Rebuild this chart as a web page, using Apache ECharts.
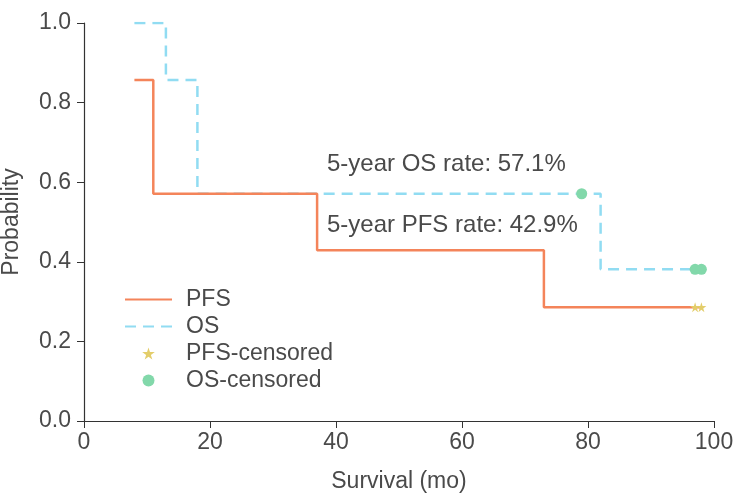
<!DOCTYPE html>
<html>
<head>
<meta charset="utf-8">
<script src="https://cdn.jsdelivr.net/npm/echarts@6/dist/echarts.min.js"></script>
<style>
  html, body { margin: 0; padding: 0; background: #fff; }
  #chart { width: 736px; height: 498px; }
</style>
</head>
<body>
<div id="chart"></div>
<script>
// Kaplan-Meier steps: [month, probability]
const pfsSteps = [[8, 0.857], [11, 0.571], [37, 0.429], [73, 0.286], [98, 0.286]];
const osSteps = [[8, 1.0], [13, 0.857], [18, 0.571], [82, 0.381], [98, 0.381]];
const pfsCensored = [[97, 0.286], [98, 0.286]];
const osCensored = [[79, 0.571], [97, 0.381], [98, 0.381]];
const notes = ['5-year OS rate: 57.1%', '5-year PFS rate: 42.9%'];

const font = 'Liberation Sans, Arial, sans-serif';
const textColor = '#4a4a4a';
const star = 'path://M50,0 L61,35 L98,35 L68,57 L79,91 L50,70 L21,91 L32,57 L2,35 L39,35 Z';

let chart = echarts.init(document.getElementById('chart'));
let option = {
  backgroundColor: '#fff',
  animation: false,
  textStyle: { fontFamily: font },
  grid: { left: 84, right: 22, top: 23, bottom: 77, containLabel: false, outerBoundsMode: 'none' },
  legend: {
    orient: 'vertical',
    left: 124,
    top: 288,
    padding: 0,
    itemWidth: 47,
    itemHeight: 12,
    itemGap: 4,
    textStyle: { fontSize: 23, color: textColor, fontFamily: font, lineHeight: 23, padding: [0, 0, 0, 9] },
    data: [
      { name: 'PFS', itemStyle: { opacity: 0 } },
      { name: 'OS', itemStyle: { opacity: 0 } },
      'PFS-censored',
      'OS-censored'
    ]
  },
  xAxis: {
    type: 'value',
    min: 0, max: 100, interval: 20,
    name: 'Survival (mo)',
    nameLocation: 'middle',
    nameGap: 49,
    nameTextStyle: { fontSize: 23, color: textColor, fontFamily: font },
    axisLine: { lineStyle: { color: '#333', width: 1.2 } },
    axisTick: { length: 7, lineStyle: { color: '#333' } },
    axisLabel: { fontSize: 23, color: textColor, margin: 10 },
    splitLine: { show: false }
  },
  yAxis: {
    type: 'value',
    min: 0, max: 1, interval: 0.2,
    name: 'Probability',
    nameLocation: 'middle',
    nameGap: 61,
    nameTextStyle: { fontSize: 23, color: textColor, fontFamily: font },
    axisLine: { show: true, lineStyle: { color: '#333', width: 1.2 } },
    axisTick: { show: true, length: 7, lineStyle: { color: '#333' } },
    axisLabel: { fontSize: 23, color: textColor, margin: 13, formatter: v => v.toFixed(1) },
    splitLine: { show: false }
  },
  graphic: [
    { type: 'text', x: 327, y: 164, style: { text: notes[0], fontSize: 24, fill: textColor, fontFamily: font, verticalAlign: 'middle' } },
    { type: 'text', x: 327, y: 225, style: { text: notes[1], fontSize: 24, fill: textColor, fontFamily: font, verticalAlign: 'middle' } }
  ],
  series: [
    {
      name: 'PFS', type: 'line', step: 'end', symbol: 'none', z: 3,
      lineStyle: { color: '#f4845a', width: 2.5 },
      itemStyle: { color: '#f4845a' },
      data: pfsSteps
    },
    {
      name: 'OS', type: 'line', step: 'end', symbol: 'none', z: 2,
      lineStyle: { color: '#91dcf2', width: 2.5, type: [11, 7] },
      itemStyle: { color: '#91dcf2' },
      data: osSteps
    },
    {
      name: 'PFS-censored', type: 'scatter', symbol: star, symbolSize: 10, z: 4,
      itemStyle: { color: '#e3cd6a', opacity: 1 },
      data: pfsCensored
    },
    {
      name: 'OS-censored', type: 'scatter', symbol: 'circle', symbolSize: 11, z: 4,
      itemStyle: { color: '#82d8aa', opacity: 1 },
      data: osCensored
    }
  ]
};
chart.setOption(option);
</script>
</body>
</html>
